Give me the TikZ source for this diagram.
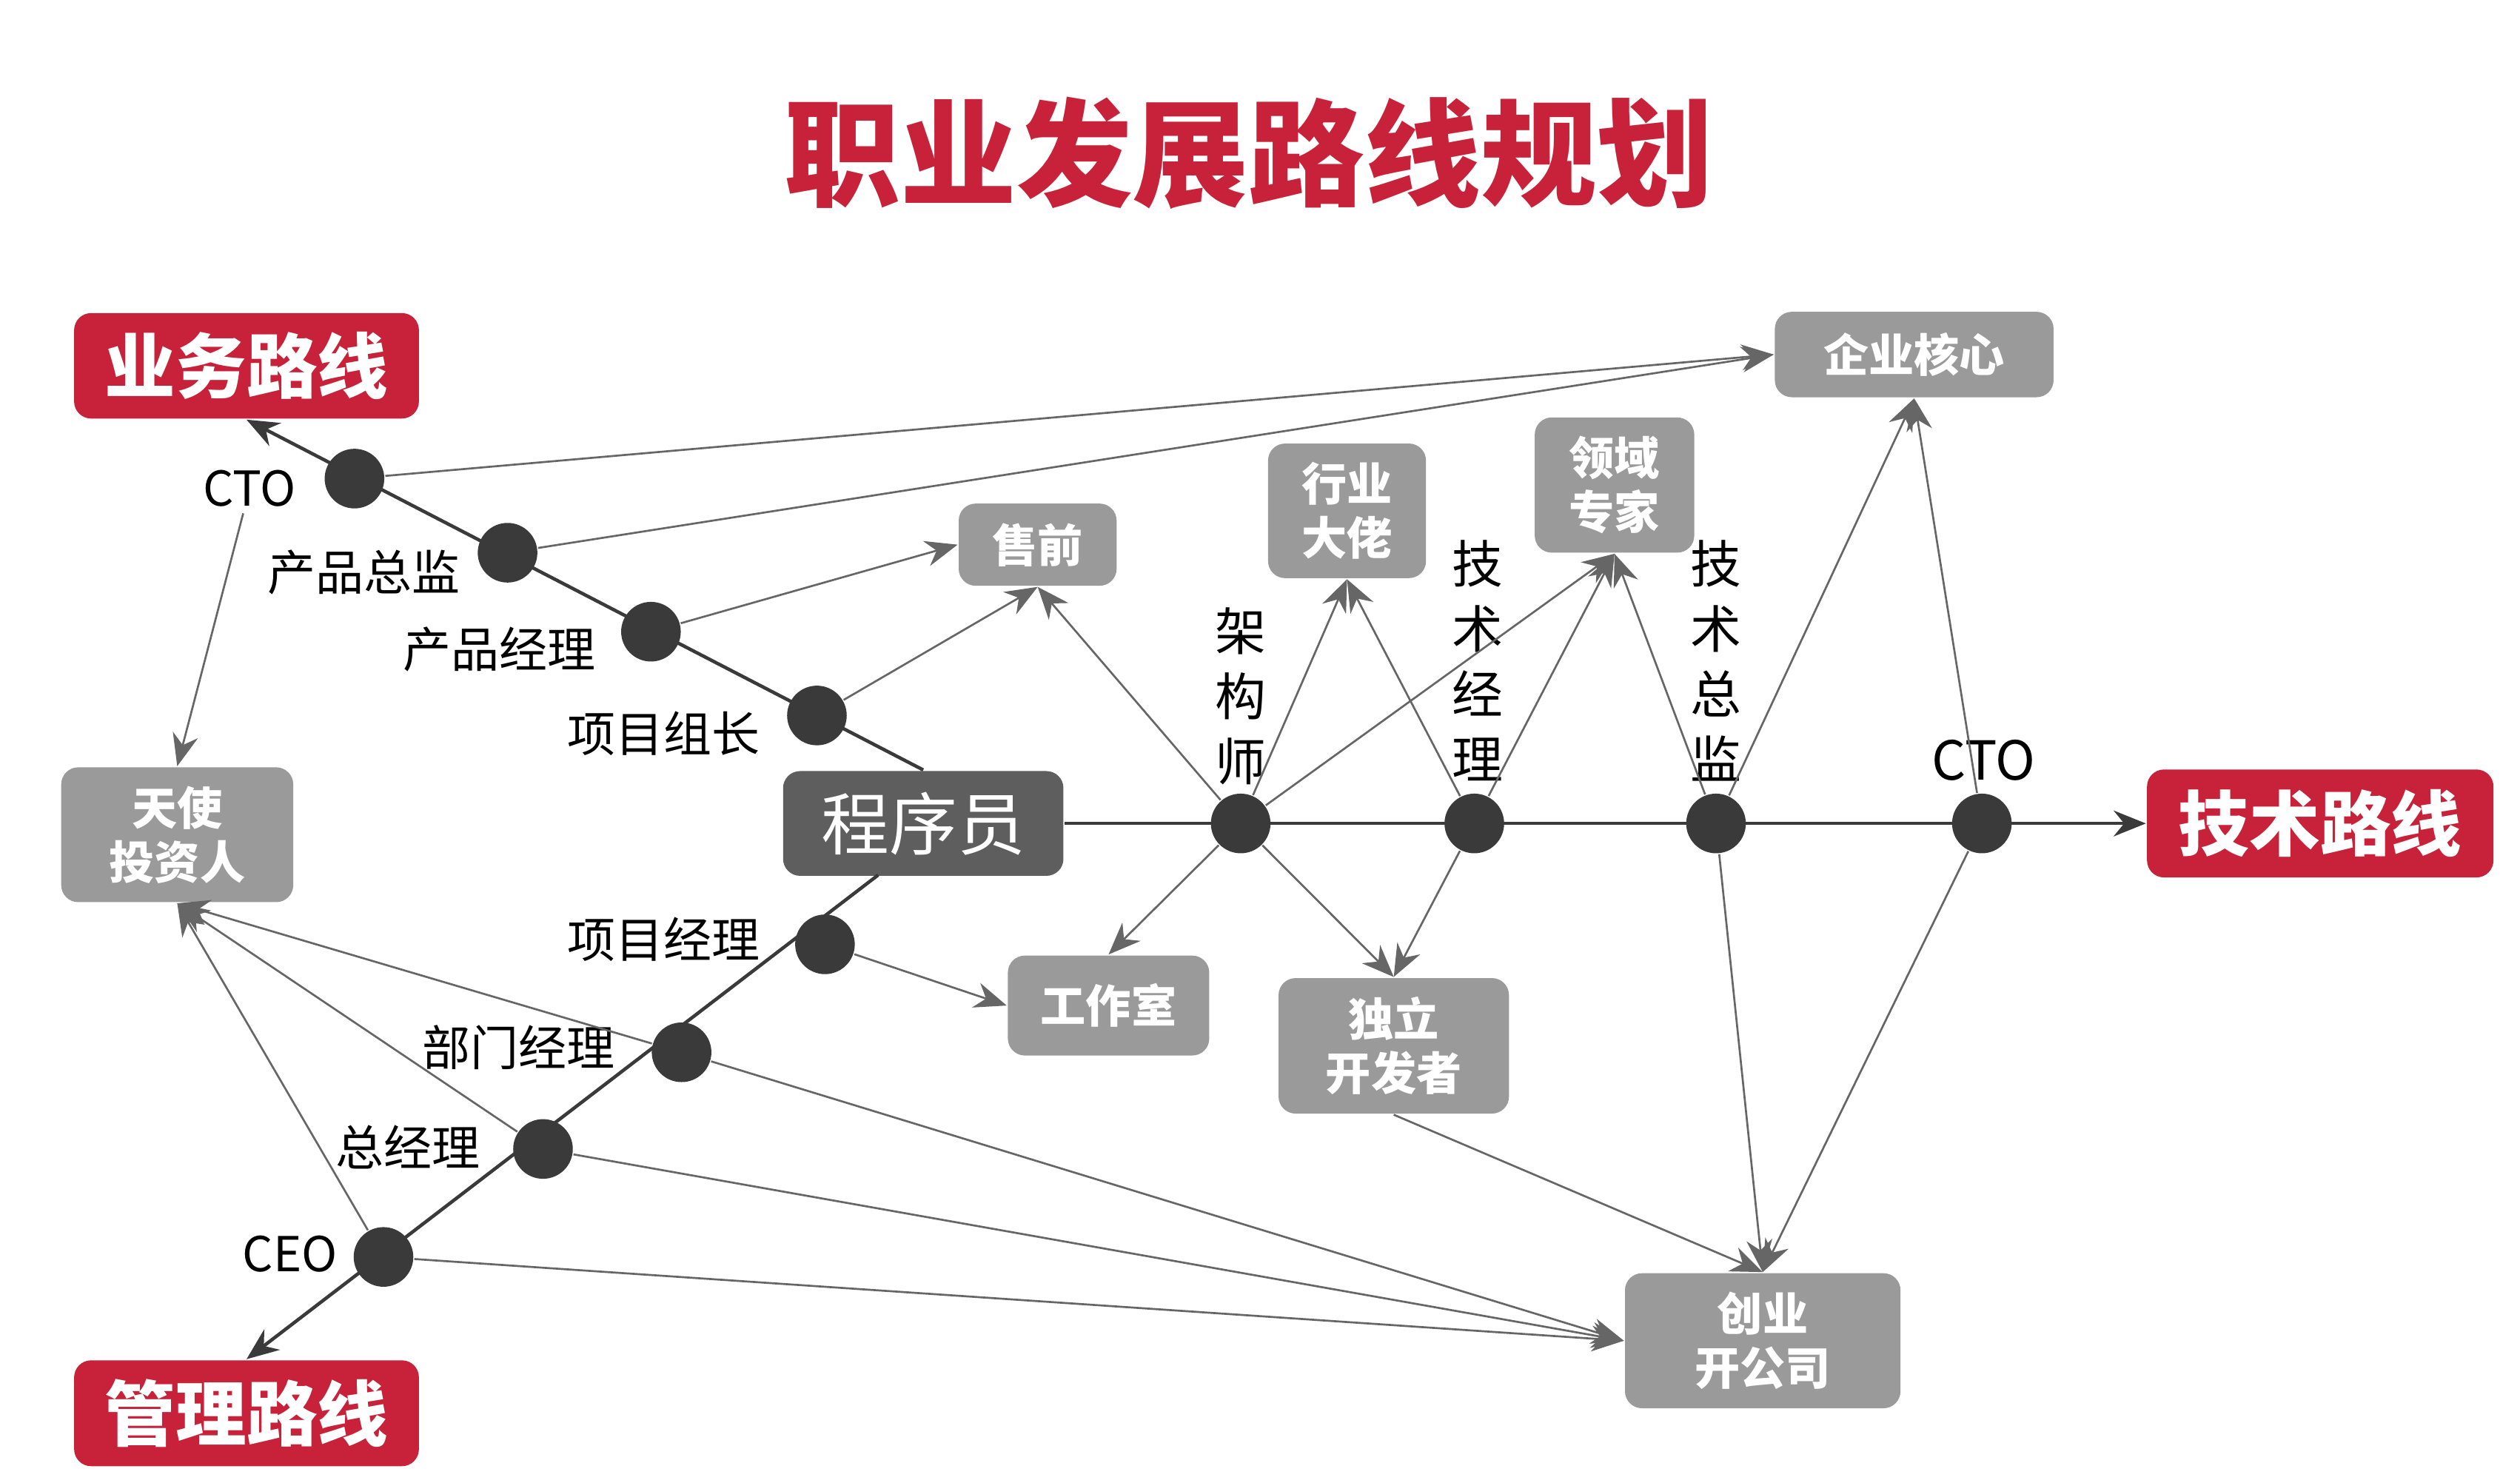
\documentclass[tikz,border=0pt]{standalone}
\usepackage{fontspec}
\setmainfont{Noto Sans CJK SC}
\usetikzlibrary{arrows.meta}
\definecolor{piros}{HTML}{C8223A}
\definecolor{szurke}{HTML}{9A9A9A}
\definecolor{sotet}{HTML}{5E5E5E}
\definecolor{vonal}{HTML}{3A3A3A}

\begin{document}
\begin{tikzpicture}[x=0.1mm, y=-0.1mm, >={Stealth[length=2mm,width=1.6mm]},
allomas/.style={circle, fill=vonal, inner sep=0, minimum size=3.7mm},
felirat/.style={inner sep=1, font=\fontsize{8.5}{10}\selectfont},
fuggo/.style={felirat, align=center, font=\fontsize{9}{11.5}\selectfont},
doboz/.style={rounded corners=3pt, fill=szurke, text=white, align=center, font=\bfseries\fontsize{8}{9.5}\selectfont},
irany/.style={rounded corners=3pt, fill=piros, text=white, font=\bfseries\fontsize{12.5}{14}\selectfont},
fo/.style={vonal, line width=.6pt},
altrel/.style={->, gray!80!black, line width=.35pt}]
\useasboundingbox (0,0) rectangle (1564,920);
\node[text=piros, font=\bfseries\fontsize{20.5}{24}\selectfont] at (775,95) {职业发展路线规划};
% iranyok
\node[irany, minimum width=21.4mm, minimum height=6.5mm] (uzlet) at (153,227) {业务路线};
\node[irany, minimum width=21.4mm, minimum height=6.5mm] (vezetes) at (153,877) {管理路线};
\node[irany, minimum width=21.5mm, minimum height=6.7mm] (tech) at (1440,511) {技术路线};
% dobozok
\node[doboz, minimum width=17.3mm, minimum height=5.3mm] (mag) at (1188,220) {企业核心};
\node[doboz, minimum width=9.8mm, minimum height=5.1mm] (elo) at (644,338) {售前};
\node[doboz, minimum width=9.8mm, minimum height=7.7mm] (nagy) at (836,317) {行业\\大佬};
\node[doboz, minimum width=9.9mm, minimum height=7.8mm] (szak) at (1002,301) {领域\\专家};
\node[doboz, minimum width=14.4mm, minimum height=7.9mm] (befekt) at (110,518) {天使\\投资人};
\node[doboz, fill=sotet, minimum width=17.4mm, minimum height=6.5mm, font=\fontsize{12}{14}\selectfont] (prog) at (573,511) {程序员};
\node[doboz, minimum width=12.5mm, minimum height=6.2mm] (studio) at (688,624) {工作室};
\node[doboz, minimum width=14.3mm, minimum height=7.2mm] (fejl) at (865,649) {独立\\开发者};
\node[doboz, minimum width=17.1mm, minimum height=7.9mm] (ceg) at (1094,832) {创业\\开公司};
% fo vonalak
\coordinate (also) at (545,543);
\draw[fo, ->] (prog.north) -- (uzlet.south);
\draw[fo, ->] (also) -- (vezetes.north);
\draw[fo, ->] (prog.east) -- (tech.west);
% allomasok
\node[allomas] (cto1) at (220,297) {};
\node[allomas] (pz) at (315,343) {};
\node[allomas] (pm) at (404,392) {};
\node[allomas] (pv) at (507,444) {};
\node[allomas] (xm) at (512,586) {};
\node[allomas] (bm) at (423,653) {};
\node[allomas] (zm) at (337,713) {};
\node[allomas] (ceo) at (238,780) {};
\node[allomas] (arch) at (770,511) {};
\node[allomas] (tm) at (915,511) {};
\node[allomas] (tz) at (1065,511) {};
\node[allomas] (cto2) at (1230,511) {};
% feliratok
\node[felirat] (lcto1) at (155,303) {CTO};
\node[felirat] at (226,355) {产品总监};
\node[felirat] at (310,403) {产品经理};
\node[felirat] at (412,455) {项目组长};
\node[felirat] at (412,583) {项目经理};
\node[felirat] at (322,650) {部门经理};
\node[felirat] at (253,712) {总经理};
\node[felirat] at (180,778) {CEO};
\node[fuggo] at (770,432) {架\\构\\师};
\node[fuggo] at (917,410) {技\\术\\经\\理};
\node[fuggo] at (1065,410) {技\\术\\总\\监};
\node[felirat, font=\fontsize{9.5}{11}\selectfont] at (1231,472) {CTO};
% nyilak
\draw[altrel] (cto1) -- (mag.west);
\draw[altrel] (pz) -- (mag.west);
\draw[altrel] (pm) -- (elo.west);
\draw[altrel] (pv) -- (elo.south);
\draw[altrel] (arch) -- (elo.south);
\draw[altrel] (arch) -- (nagy.south);
\draw[altrel] (tm) -- (nagy.south);
\draw[altrel] (arch) -- (szak.south);
\draw[altrel] (tm) -- (szak.south);
\draw[altrel] (tz) -- (szak.south);
\draw[altrel] (tz) -- (mag.south);
\draw[altrel] (cto2) -- (mag.south);
\draw[altrel] (arch) -- (studio.north);
\draw[altrel] (arch) -- (fejl.north);
\draw[altrel] (tm) -- (fejl.north);
\draw[altrel] (tz) -- (ceg.north);
\draw[altrel] (cto2) -- (ceg.north);
\draw[altrel] (fejl.south) -- (ceg.north);
\draw[altrel] (xm) -- (studio.west);
\draw[altrel] (bm) -- (ceg.west);
\draw[altrel] (zm) -- (ceg.west);
\draw[altrel] (ceo) -- (ceg.west);
\draw[altrel] (bm) -- (befekt.south);
\draw[altrel] (zm) -- (befekt.south);
\draw[altrel] (ceo) -- (befekt.south);
\draw[altrel] (lcto1) -- (befekt.north);
\end{tikzpicture}
\end{document}
